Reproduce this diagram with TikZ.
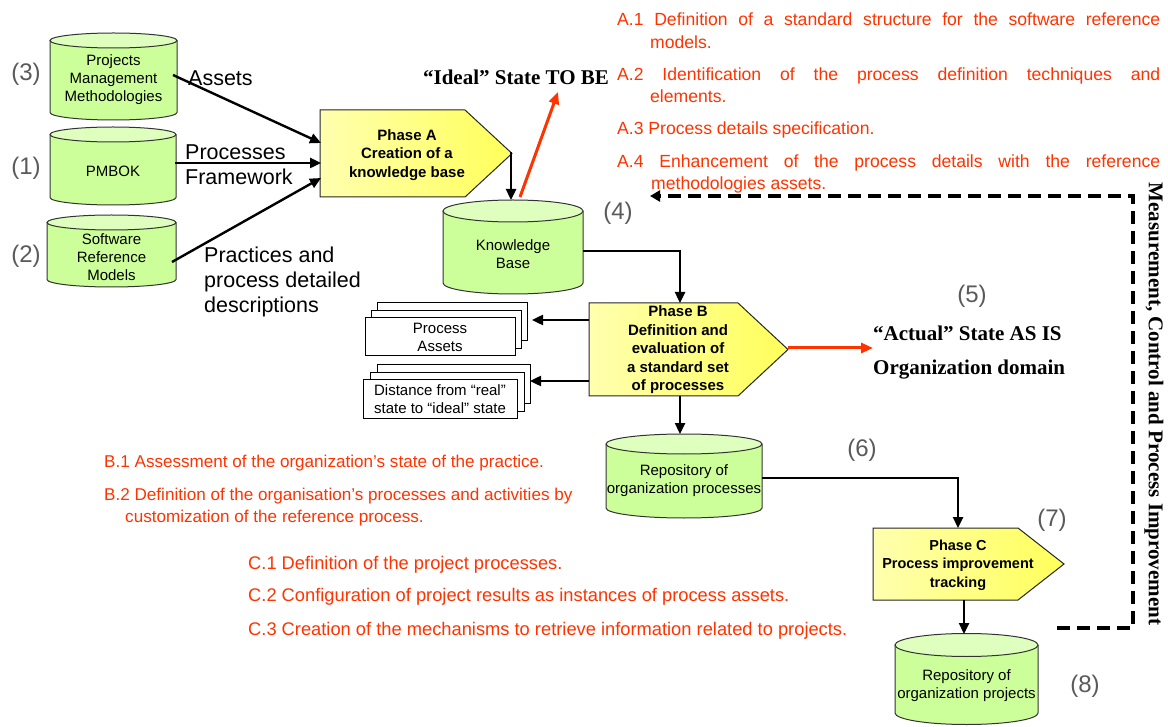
\documentclass[tikz,border=0pt]{standalone}
\usepackage{fontspec}
\setmainfont{Liberation Sans}
\newfontfamily\tnr{Liberation Serif}
\usetikzlibrary{arrows.meta}
\definecolor{redor}{RGB}{255,51,0}
\definecolor{cylbody}{RGB}{204,255,153}
\definecolor{cyltop}{RGB}{222,255,190}
\definecolor{numgray}{RGB}{90,90,90}
\definecolor{phyel}{RGB}{255,255,90}
\definecolor{phyellt}{RGB}{255,255,175}
\newcommand{\fs}[2]{\fontsize{#1}{#2}\selectfont}
% name, xl, xr, ytop(center), ybot(center), ry, texty, text
\newcommand{\cylinderdraw}[8]{%
 \pgfmathsetmacro{\myrx}{(#3-#2)/2}%
 \pgfmathsetmacro{\mycx}{(#2+#3)/2}%
 \fill[cylbody] (#2,#4) -- (#2,#5) arc[start angle=180,end angle=360,x radius=\myrx*1pt,y radius=#6*1pt] -- (#3,#4) -- cycle;
 \draw[cylline] (#2,#4) -- (#2,#5) arc[start angle=180,end angle=360,x radius=\myrx*1pt,y radius=#6*1pt] -- (#3,#4);
 \draw[cylline,fill=cyltop] (\mycx,#4) ellipse[x radius=\myrx*1pt,y radius=#6*1pt];
 \node[cyltext] (#1) at (\mycx,#7) {#8};
}
% xl, xr, xtip, ytop, ybot
\newcommand{\phaseshape}[5]{%
 \draw[phasebox] (#1,#4) -- (#2,#4) -- (#3,{(#4+#5)/2}) -- (#2,#5) -- (#1,#5) -- cycle;
}
\begin{document}
\begin{tikzpicture}[x=1pt,y=-1pt,
 arr/.style={line width=2.4pt,-{Triangle[length=11pt,width=10pt]}},
 redarr/.style={draw=redor,line width=3pt,-{Triangle[length=12pt,width=10pt]}},
 dasharr/.style={line width=3.8pt,dash pattern=on 13pt off 7pt,-{Triangle[length=10pt,width=11pt]}},
 cylline/.style={draw=black!80,line width=1pt},
 cyltext/.style={font=\fs{15}{18},align=center,inner sep=0},
 phasebox/.style={draw=black!85,line width=1pt,left color=phyellt,right color=phyel},
 phasetext/.style={font=\bfseries\fs{15}{18.5},align=center,inner sep=0},
 num/.style={text=numgray,font=\fs{24}{26},inner sep=0},
 lbl/.style={font=\fs{21.5}{25},align=left,inner sep=0,anchor=west},
 redA/.style={text=redor,font=\fs{17.6}{20},inner sep=0,anchor=base west},
 redB/.style={text=redor,font=\fs{17.1}{20},inner sep=0,anchor=base west},
 redC/.style={text=redor,font=\fs{18.3}{20},inner sep=0,anchor=base west},
 doc/.style={draw=black,line width=0.9pt,fill=white},
 doctext/.style={font=\fs{15}{18},align=center,inner sep=0},
 state/.style={font=\tnr\bfseries\fs{21}{24},inner sep=0},
]
\useasboundingbox[fill=white] (0,0) rectangle (1168,727);

% ---------- cylinders ----------
\cylinderdraw{pmm}{50}{177}{40.5}{112.5}{7.5}{80}{Projects\\Management\\Methodologies}
\cylinderdraw{pmbok}{50}{176}{134.5}{197.5}{7.5}{171}{PMBOK}
\cylinderdraw{srm}{47}{176}{222.5}{279.5}{7.5}{257}{Software\\Reference\\Models}
\cylinderdraw{kb}{443}{583}{211}{283}{11}{254}{Knowledge\\Base}
\cylinderdraw{rop}{606}{762}{444}{508}{10}{481}{Repository of\\organization processes}
\cylinderdraw{roj}{895}{1038}{645}{713}{11.5}{686}{Repository of\\organization projects}

% ---------- numbers ----------
\node[num] (n3) at (26,74) {(3)};
\node[num] (n1) at (26,168) {(1)};
\node[num] (n2) at (26,256) {(2)};
\node[num] (n4) at (618,213) {(4)};
\node[num] (n5) at (972,296) {(5)};
\node[num] (n6) at (862,450) {(6)};
\node[num] (n7) at (1052,520) {(7)};
\node[num] (n8) at (1085,686) {(8)};

% ---------- labels ----------
\node[lbl] (lassets) at (188,78) {Assets};
\node[lbl] (lproc) at (185,165) {Processes\\Framework};
\node[lbl] (lpract) at (204,282) {Practices and\\process detailed\\descriptions};

% ---------- phases ----------
\phaseshape{320}{465}{512}{110}{197}
\node[phasetext] (pa) at (407,155) {Phase A\\Creation of a\\knowledge base};
\phaseshape{589}{738}{788}{303}{396}
\node[phasetext] (pb) at (678,350) {Phase B\\Definition and\\evaluation of\\a standard set\\of processes};
\phaseshape{873}{1018}{1064}{528}{600}
\node[phasetext,font=\bfseries\fs{14.5}{18.5}] (pc) at (958,565) {Phase C\\Process improvement\\tracking};

% ---------- document stacks ----------
\draw[doc] (377,302) rectangle (527,340);
\draw[doc] (371,310) rectangle (521,348);
\draw[doc] (365,317) rectangle (515,355);
\node[doctext] (passets) at (440,337) {Process\\Assets};
\draw[doc] (377,364) rectangle (530,403);
\draw[doc] (370,372) rectangle (524,411);
\draw[doc] (363,379) rectangle (517,418);
\node[doctext] (dist) at (440,399) {Distance from “real”\\state to “ideal” state};

% ---------- states ----------
\node[state] (ideal) at (516,77) {“Ideal” State TO BE};
\node[state,anchor=west] (actual) at (873,333) {“Actual” State AS IS};
\node[state,anchor=west] (orgdom) at (873,370) {Organization domain};
\node[state,rotate=-90] (mcpi) at (1154,404) {Measurement, Control and Process Improvement};

% ---------- red texts ----------
\node[redA] (a1) at (617,26) {\makebox[543pt][s]{A.1 Definition of a standard structure for the software reference}};
\node[redA] (a1b) at (650,49) {models.};
\node[redA] (a2) at (617,81) {\makebox[543pt][s]{A.2 Identification of the process definition techniques and}};
\node[redA] (a2b) at (650,103) {elements.};
\node[redA] (a3) at (617,135) {A.3 Process details specification.};
\node[redA] (a4) at (617,168) {\makebox[543pt][s]{A.4 Enhancement of the process details with the reference}};
\node[redA] (a4b) at (651,190) {methodologies assets.};
\node[redB] (b1) at (104,467) {B.1 Assessment of the organization’s state of the practice.};
\node[redB] (b2) at (104,500) {B.2 Definition of the organisation’s processes and activities by};
\node[redB] (b2b) at (125,522) {customization of the reference process.};
\node[redC] (c1) at (248,569) {C.1 Definition of the project processes.};
\node[redC] (c2) at (248,601) {C.2 Configuration of project results as instances of process assets.};
\node[redC] (c3) at (248,635) {C.3 Creation of the mechanisms to retrieve information related to projects.};

% ---------- connector points ----------
\coordinate (pmm-out) at (173,75);
\coordinate (pmbok-out) at (175,163);
\coordinate (srm-out) at (172,262);
\coordinate (pa-in1) at (321,143);
\coordinate (pa-in2) at (321,163);
\coordinate (pa-in3) at (321,178);
\coordinate (pa-tip) at (511,152);
\coordinate (kb-top) at (511,200);
\coordinate (kb-red) at (520,197);
\coordinate (ideal-pt) at (558,92);
\coordinate (kb-out) at (583,251);
\coordinate (kb-corner) at (680,251);
\coordinate (pb-top) at (680,303);
\coordinate (pb-w1) at (589,320);
\coordinate (pb-w2) at (589,381);
\coordinate (passets-e) at (532,320);
\coordinate (dist-e) at (530,381);
\coordinate (pb-tip) at (788,348);
\coordinate (actual-w) at (873,348);
\coordinate (pb-bot) at (680,396);
\coordinate (rop-top) at (680,434);
\coordinate (rop-out) at (762,478);
\coordinate (rop-corner) at (958,478);
\coordinate (pc-top) at (958,528);
\coordinate (pc-bot) at (964,600);
\coordinate (roj-top) at (964,634);
\coordinate (roj-dash) at (1057,628);
\coordinate (d1) at (1133,628);
\coordinate (d2) at (1133,196);
\coordinate (a4-end) at (650,196);

% ---------- connectors ----------
\draw[arr] (pmm-out) -- (pa-in1);
\draw[arr] (pmbok-out) -- (pa-in2);
\draw[arr] (srm-out) -- (pa-in3);
\draw[arr] (pa-tip) -- (kb-top);
\draw[redarr] (kb-red) -- (ideal-pt);
\draw[arr] (kb-out) -- (kb-corner) -- (pb-top);
\draw[arr] (pb-w1) -- (passets-e);
\draw[arr] (pb-w2) -- (dist-e);
\draw[redarr] (pb-tip) -- (actual-w);
\draw[arr] (pb-bot) -- (rop-top);
\draw[arr] (rop-out) -- (rop-corner) -- (pc-top);
\draw[arr] (pc-bot) -- (roj-top);
\draw[dasharr] (roj-dash) -- (d1) -- (d2) -- (a4-end);
\end{tikzpicture}
\end{document}
